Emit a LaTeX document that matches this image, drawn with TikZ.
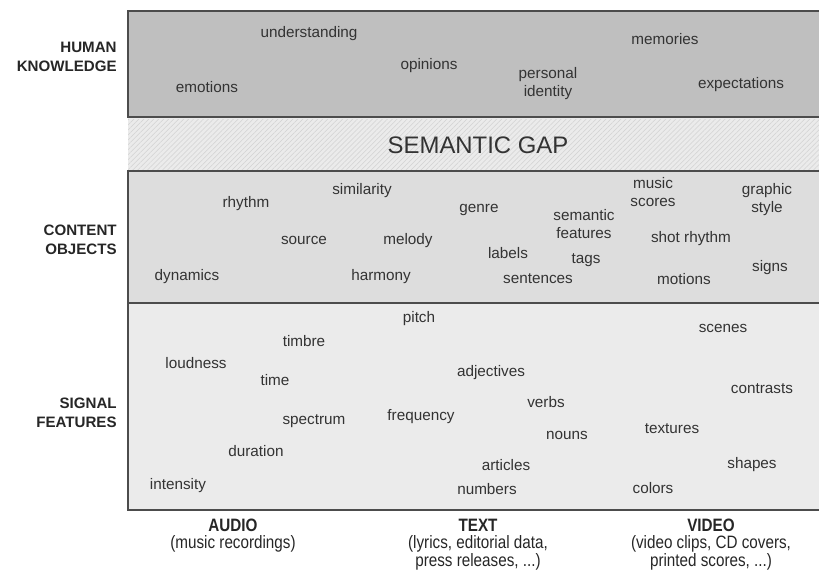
\documentclass[tikz,border=0pt]{standalone}
\usepackage{fontspec}
\setmainfont{Liberation Sans}
\newfontfamily\narrowfont[FakeStretch=0.85]{Liberation Sans}
\usetikzlibrary{patterns.meta}

\begin{document}
\begin{tikzpicture}[
    x=0.02cm,
    y=-0.02cm,
    word/.style={
        font=\fontsize{8.7}{10.2}\selectfont,
        text=black!80,
        align=center,
        inner sep=0pt,
        yshift=-1.1pt
    },
    layer/.style={
        font=\bfseries\fontsize{8.6}{10.6}\selectfont,
        text=black!85,
        align=right,
        anchor=east,
        inner sep=0pt
    },
    media/.style={
        font=\narrowfont\fontsize{10.2}{9.4}\selectfont,
        text=black!85,
        align=center,
        anchor=north,
        inner sep=0pt
    },
    edge/.style={draw=black!70, line width=0.9pt}
]
    \useasboundingbox (0,0) rectangle (819,576);

    %% Bands
    \fill[gray!50] (128,11) rectangle (819,117);
    \fill[gray!16] (128,117) rectangle (819,171);
    \fill[pattern={Lines[angle=45,distance=2pt,line width=0.3pt]}, pattern color=gray!35] (128,119) rectangle (819,169);
    \fill[gray!27] (128,171) rectangle (819,303);
    \fill[gray!16] (128,303) rectangle (819,510);
    \draw[edge] (819,11) -- (128,11) -- (128,117) -- (819,117);
    \draw[edge] (819,171) -- (128,171) -- (128,510) -- (819,510);
    \draw[edge] (128,303) -- (819,303);

    %% Layer names
    \node[layer] (human) at (117,57) {HUMAN\\KNOWLEDGE};
    \node[layer] (content) at (117,240) {CONTENT\\OBJECTS};
    \node[layer] (signal) at (117,413) {SIGNAL\\FEATURES};
    \node[word, font=\fontsize{13.6}{15}\selectfont] (gap) at (478,143) {SEMANTIC GAP};

    %% Human knowledge
    \node[word] (understanding) at (309,32) {understanding};
    \node[word] (memories) at (665,37) {memories};
    \node[word] (opinions) at (429,64) {opinions};
    \node[word] (identity) at (548,82) {personal\\identity};
    \node[word] (emotions) at (207,85) {emotions};
    \node[word] (expectations) at (741,83) {expectations};

    %% Content objects
    \node[word] (rhythm) at (246,202) {rhythm};
    \node[word] (similarity) at (362,189) {similarity};
    \node[word] (genre) at (479,208) {genre};
    \node[word] (semantic) at (584,222) {semantic\\features};
    \node[word] (scores) at (653,190) {music\\scores};
    \node[word] (graphic) at (767,198) {graphic\\style};
    \node[word] (source) at (304,239) {source};
    \node[word] (melody) at (408,239) {melody};
    \node[word] (shot) at (691,237) {shot rhythm};
    \node[word] (labels) at (508,251) {labels};
    \node[word] (tags) at (586,258) {tags};
    \node[word] (dynamics) at (187,275) {dynamics};
    \node[word] (harmony) at (381,275) {harmony};
    \node[word] (sentences) at (538,277) {sentences};
    \node[word] (motions) at (684,277) {motions};
    \node[word] (signs) at (770,266) {signs};

    %% Signal features
    \node[word] (pitch) at (419,317) {pitch};
    \node[word] (scenes) at (723,327) {scenes};
    \node[word] (timbre) at (304,339) {timbre};
    \node[word] (loudness) at (196,361) {loudness};
    \node[word] (adjectives) at (491,371) {adjectives};
    \node[word] (time) at (275,378) {time};
    \node[word] (contrasts) at (762,387) {contrasts};
    \node[word] (verbs) at (546,400) {verbs};
    \node[word] (frequency) at (421,415) {frequency};
    \node[word] (spectrum) at (314,419) {spectrum};
    \node[word] (textures) at (672,427) {textures};
    \node[word] (nouns) at (567,434) {nouns};
    \node[word] (duration) at (256,449) {duration};
    \node[word] (articles) at (506,463) {articles};
    \node[word] (shapes) at (752,463) {shapes};
    \node[word] (intensity) at (178,484) {intensity};
    \node[word] (numbers) at (487,487) {numbers};
    \node[word] (colors) at (653,486) {colors};

    %% Media
    \node[media] (audio) at (233,519) {\bfseries AUDIO\\(music recordings)};
    \node[media] (text) at (478,519) {\bfseries TEXT\\(lyrics, editorial data,\\press releases, ...)};
    \node[media] (video) at (711,519) {\bfseries VIDEO\\(video clips, CD covers,\\printed scores, ...)};
\end{tikzpicture}
\end{document}
